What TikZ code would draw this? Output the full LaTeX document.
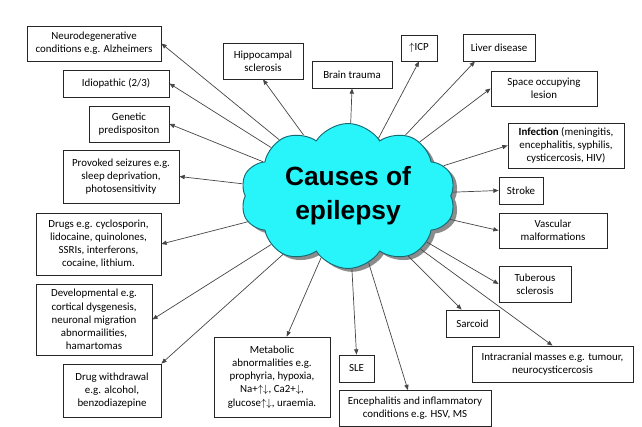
\documentclass[tikz,border=0pt]{standalone}
\usepackage{fontspec}
\setmainfont{Carlito}
\newfontfamily\titlefont{Liberation Sans}
\usepackage{tikz}
\usetikzlibrary{shapes.symbols, shadows, arrows.meta}
\definecolor{cloudfill}{RGB}{40,245,250}
\definecolor{cloudline}{RGB}{20,105,115}
\definecolor{linegray}{RGB}{70,70,70}

\begin{document}
\begin{tikzpicture}[
  x=0.03cm, y=-0.03cm,
  cause/.style={rectangle, draw=black!85, line width=0.7pt,
    fill=white, align=center, inner sep=2pt,
    font=\fontsize{9.3}{11.3}\selectfont},
  centre/.style={cloud, cloud puffs=10, cloud puff arc=115,
    cloud ignores aspect, draw=cloudline, line width=0.8pt,
    fill=cloudfill, align=center,
    drop shadow={shadow xshift=0.12cm, shadow yshift=-0.1cm,
      opacity=1, fill=black!45},
    font=\titlefont\bfseries\fontsize{22.5}{29}\selectfont},
  link/.style={-{Triangle[length=4.5pt, width=3.6pt]},
    line width=0.6pt, draw=linegray}
]
\useasboundingbox (0,0) rectangle (642,427);

\node[centre, minimum width=6.45cm, minimum height=4.35cm]
  (epi) at (348,196) {Causes of\\epilepsy};

% left column
\node[cause, minimum width=4.02cm, minimum height=1.05cm] (neuro) at (94,43.5)
  {Neurodegenerative\\conditions e.g. Alzheimers};
\node[cause, minimum width=3.18cm, minimum height=0.81cm] (idio) at (116,83.5)
  {Idiopathic (2/3)};
\node[cause, minimum width=2.4cm, minimum height=1.08cm] (genet) at (129,124)
  {Genetic\\predispositon};
\node[cause, minimum width=3.48cm, minimum height=1.59cm] (provok) at (121,176.5)
  {Provoked seizures e.g.\\sleep deprivation,\\photosensitivity};
\node[cause, minimum width=3.75cm, minimum height=1.86cm] (drugs) at (98.5,244)
  {Drugs e.g. cyclosporin,\\lidocaine, quinolones,\\SSRIs, interferons,\\cocaine, lithium.};
\node[cause, minimum width=3.48cm, minimum height=2.13cm] (devel) at (94,319.5)
  {Developmental e.g.\\cortical dysgenesis,\\neuronal migration\\abnormailities,\\hamartomas};
\node[cause, minimum width=2.94cm, minimum height=1.59cm] (withdr) at (112,390.5)
  {Drug withdrawal\\e.g. alcohol,\\benzodiazepine};

% bottom row
\node[cause, minimum width=3.48cm, minimum height=2.4cm] (metab) at (272,377)
  {Metabolic\\abnormalities e.g.\\prophyria, hypoxia,\\Na+$\uparrow\downarrow$, Ca2+$\downarrow$,\\glucose$\uparrow\downarrow$, uraemia.};
\node[cause, minimum width=1.05cm, minimum height=0.81cm] (sle) at (356.5,368.5)
  {SLE};
\node[cause, minimum width=4.56cm, minimum height=1.08cm] (enceph) at (415,408.5)
  {Encephalitis and inflammatory\\conditions e.g. HSV, MS};
\node[cause, minimum width=1.59cm, minimum height=0.81cm] (sarc) at (472.5,323.5)
  {Sarcoid};
\node[cause, minimum width=4.83cm, minimum height=1.08cm] (intra) at (552.5,364)
  {Intracranial masses e.g. tumour,\\neurocysticercosis};

% right column
\node[cause, minimum width=2.16cm, minimum height=1.08cm] (tuber) at (535,284)
  {Tuberous\\sclerosis};
\node[cause, minimum width=3.24cm, minimum height=1.05cm] (vasc) at (553,230.5)
  {Vascular\\malformations};
\node[cause, minimum width=1.32cm, minimum height=0.81cm] (stroke) at (521,190.5)
  {Stroke};
\node[cause, minimum width=3.48cm, minimum height=1.35cm] (infect) at (566,145.5)
  {\textbf{Infection} (meningitis,\\encephalitis, syphilis,\\cysticercosis, HIV)};
\node[cause, minimum width=3.18cm, minimum height=1.05cm] (sol) at (544,88.5)
  {Space occupying\\lesion};

% top row
\node[cause, minimum width=2.16cm, minimum height=0.81cm] (liver) at (499,47.5)
  {Liver disease};
\node[cause, minimum width=1.08cm, minimum height=0.78cm] (icp) at (419,48)
  {$\uparrow$ICP};
\node[cause, minimum width=2.4cm, minimum height=0.81cm] (trauma) at (352,74.5)
  {Brain trauma};
\node[cause, minimum width=2.4cm, minimum height=1.08cm] (hippo) at (263,61)
  {Hippocampal\\sclerosis};

% spokes
\draw[link] (epi) -- (neuro.east);
\draw[link] (epi) -- (idio.east);
\draw[link] (epi) -- (genet.east);
\draw[link] (epi) -- (provok.east);
\draw[link] (epi) -- (drugs.east);
\draw[link] (epi) -- (devel.east);
\draw[link] (epi) -- (withdr.north east);
\draw[link] (epi) -- (metab.70);
\draw[link] (epi) -- (sle.north);
\draw[link] (epi) -- (enceph.111);
\draw[link] (epi) -- (sarc.128);
\draw[link] (epi) -- (intra.north);
\draw[link] (epi) -- (tuber.west);
\draw[link] (epi) -- (vasc.west);
\draw[link] (epi) -- (stroke.west);
\draw[link] (epi) -- (infect.west);
\draw[link] (epi) -- (sol.west);
\draw[link] (epi) -- (liver.210);
\draw[link] (epi) -- (icp.south);
\draw[link] (epi) -- (trauma.south);
\draw[link] (epi) -- (hippo.south);
\end{tikzpicture}
\end{document}
